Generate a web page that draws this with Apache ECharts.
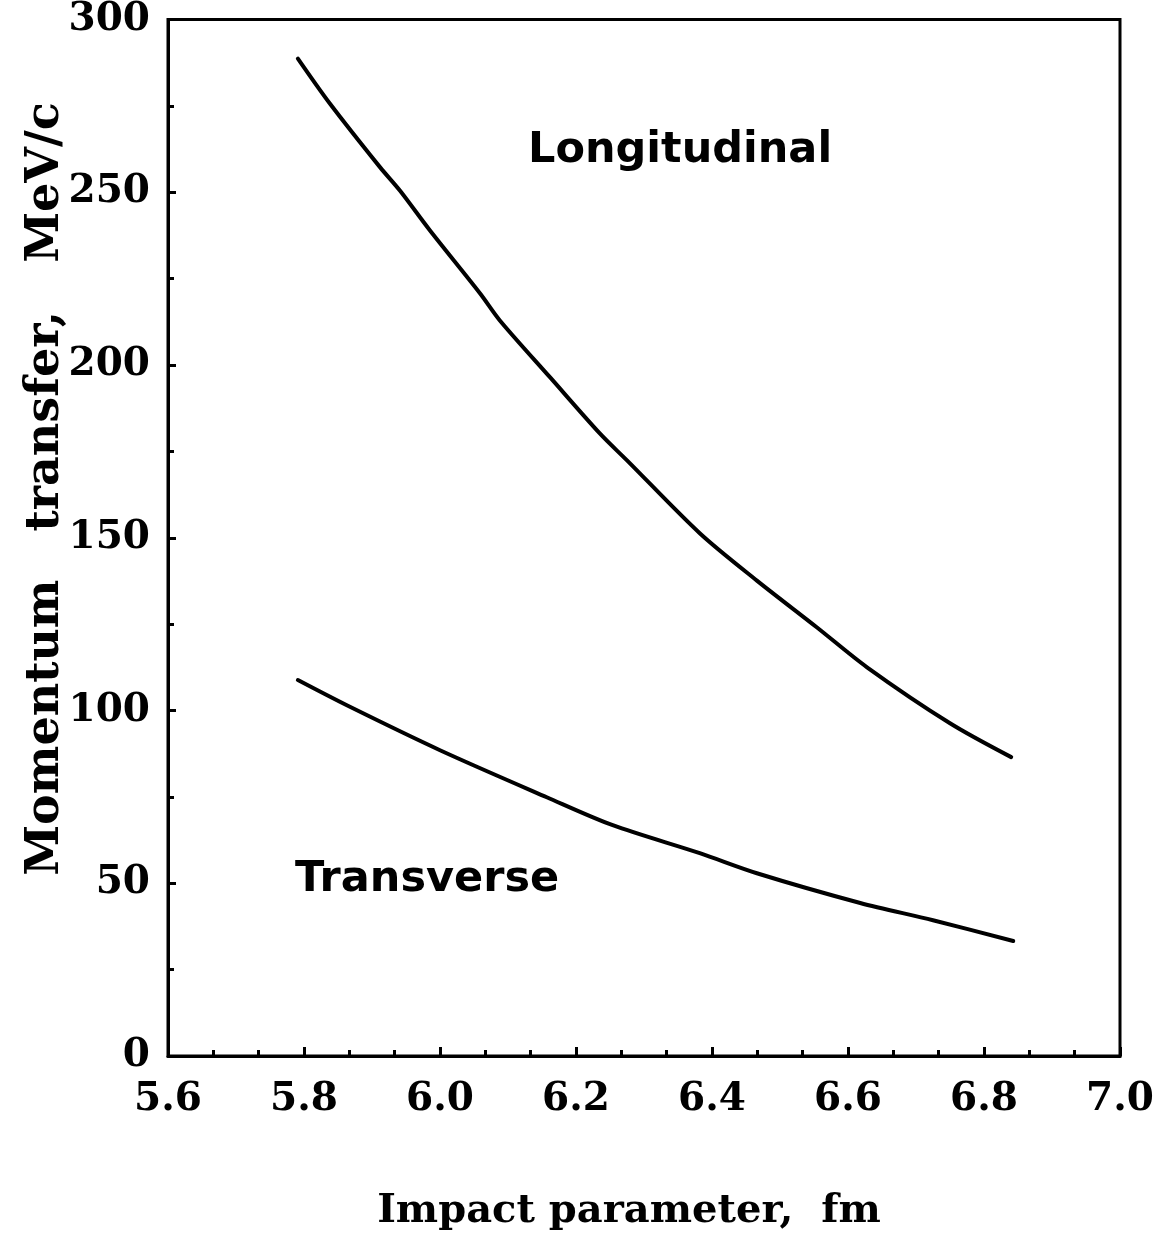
<!DOCTYPE html>
<html>
<head>
<meta charset="utf-8">
<script src="https://cdn.jsdelivr.net/npm/echarts@6/dist/echarts.min.js"></script>
<style>
html,body{margin:0;padding:0;background:#fff;}
#chart{width:1166px;height:1234px;}
</style>
</head>
<body>
<div id="chart"></div>
<script>
// Impact parameter (fm) and momentum transfer (MeV/c)
const longX = [5.791, 5.838, 5.912, 5.941, 5.985, 6.059, 6.088, 6.162, 6.235, 6.275, 6.382, 6.466, 6.554, 6.628, 6.750, 6.840];
const longY = [288.7, 275.7, 257.2, 250.5, 239.0, 220.7, 212.9, 196.4, 180.2, 172.4, 151.3, 137.6, 124.1, 112.5, 96.3, 86.5];
const transX = [5.791, 5.863, 6.000, 6.157, 6.254, 6.382, 6.466, 6.618, 6.725, 6.843];
const transY = [108.8, 101.5, 88.5, 74.9, 66.8, 58.7, 52.9, 44.3, 39.3, 33.3];
const seriesNames = ['Longitudinal', 'Transverse'];
const xTitle = 'Impact parameter,  fm';
const yTitle = 'Momentum   transfer,   MeV/c';

const chart = echarts.init(document.getElementById('chart'));
const serif = '"DejaVu Serif", "Liberation Serif", serif';
const heavy = '"DejaVu Sans", "Liberation Sans", sans-serif';

const zip = (xs, ys) => xs.map((x, i) => [x, ys[i]]);

chart.setOption({
  backgroundColor: '#ffffff',
  animation: false,
  grid: { left: 168, right: 46, top: 19, bottom: 178, show: true, borderColor: '#000', borderWidth: 3, backgroundColor: 'transparent' },
  xAxis: {
    type: 'value', min: 5.6, max: 7.0, interval: 0.2,
    axisLine: { show: true, lineStyle: { color: '#000', width: 3 } },
    axisTick: { show: true, inside: true, length: 9, lineStyle: { color: '#000', width: 3 } },
    minorTick: { show: true, splitNumber: 3, length: 6, lineStyle: { color: '#000', width: 3 } },
    splitLine: { show: false },
    axisLabel: { color: '#000', fontFamily: serif, fontWeight: 'bold', fontSize: 39, margin: 24, formatter: v => v.toFixed(1) }
  },
  yAxis: {
    type: 'value', min: 0, max: 300, interval: 50,
    axisLine: { show: true, lineStyle: { color: '#000', width: 3 } },
    axisTick: { show: true, inside: true, length: 8, lineStyle: { color: '#000', width: 3 } },
    minorTick: { show: true, splitNumber: 2, length: 6, lineStyle: { color: '#000', width: 3 } },
    splitLine: { show: false },
    axisLabel: { color: '#000', fontFamily: serif, fontWeight: 'bold', fontSize: 39, margin: 18 }
  },
  series: [
    { name: seriesNames[0], type: 'line', data: zip(longX, longY), showSymbol: false, smooth: 0.3,
      lineStyle: { color: '#000', width: 4, cap: 'round', join: 'round' } },
    { name: seriesNames[1], type: 'line', data: zip(transX, transY), showSymbol: false, smooth: 0.3,
      lineStyle: { color: '#000', width: 4, cap: 'round', join: 'round' } }
  ],
  graphic: [
    { type: 'text', x: 528, y: 151, style: { text: seriesNames[0], fill: '#000', font: 'bold 43px ' + heavy, align: 'left', verticalAlign: 'middle' } },
    { type: 'text', x: 295, y: 880, style: { text: seriesNames[1], fill: '#000', font: 'bold 43px ' + heavy, align: 'left', verticalAlign: 'middle' } },
    { type: 'text', x: 629, y: 1212, style: { text: xTitle, fill: '#000', font: 'bold 40px ' + serif, align: 'center', verticalAlign: 'middle' } },
    { type: 'text', x: 46, y: 489, rotation: Math.PI / 2, style: { text: yTitle, fill: '#000', font: 'bold 46px ' + serif, align: 'center', verticalAlign: 'middle' } }
  ]
});
</script>
</body>
</html>
